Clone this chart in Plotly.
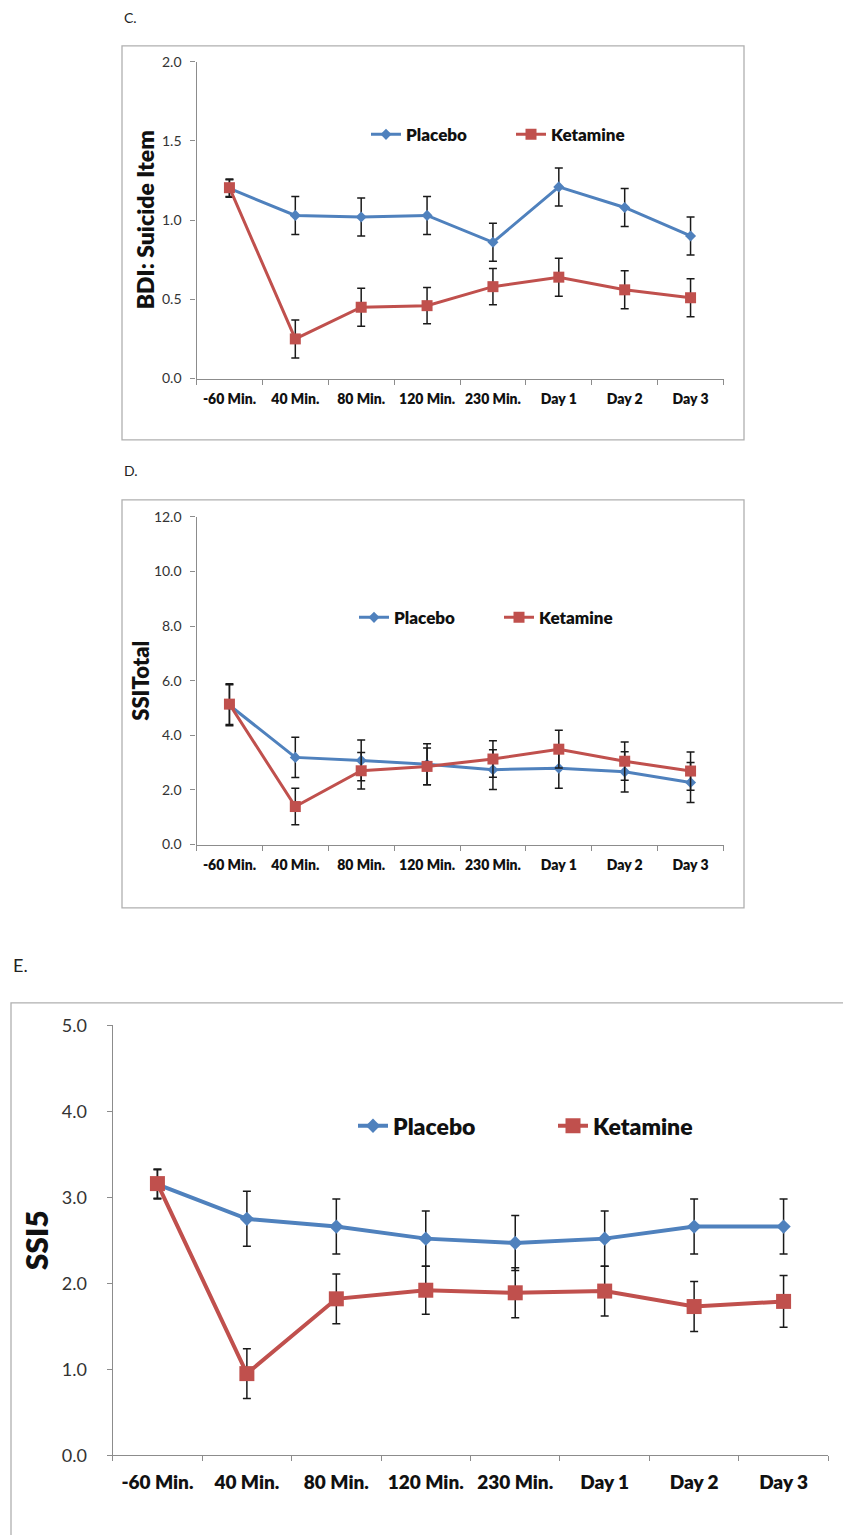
import plotly.graph_objects as go

W = 843
H = 1535                 # figure height
# vertical placement: the photographed picture is offset/compressed slightly,
# so page rows are mapped with this top offset and effective height
TOP = 11.2
HEFF = 1513.0

categories = ["-60 Min.", "40 Min.", "80 Min.", "120 Min.", "230 Min.", "Day 1", "Day 2", "Day 3"]

# Panel C: BDI suicide item
c_placebo = [1.20, 1.03, 1.02, 1.03, 0.86, 1.21, 1.08, 0.90]
c_placebo_err = [0.055, 0.12, 0.12, 0.12, 0.12, 0.12, 0.12, 0.12]
c_ketamine = [1.205, 0.25, 0.45, 0.46, 0.58, 0.64, 0.56, 0.51]
c_ketamine_err = [0.055, 0.12, 0.12, 0.115, 0.115, 0.12, 0.12, 0.12]
c_ticks = [0.0, 0.5, 1.0, 1.5, 2.0]

# Panel D: SSI total
d_placebo = [5.10, 3.19, 3.08, 2.94, 2.74, 2.79, 2.66, 2.27]
d_placebo_err = [0.75, 0.74, 0.75, 0.75, 0.73, 0.73, 0.74, 0.73]
d_ketamine = [5.14, 1.39, 2.70, 2.86, 3.13, 3.49, 3.05, 2.69]
d_ketamine_err = [0.75, 0.67, 0.67, 0.67, 0.67, 0.69, 0.70, 0.70]
d_ticks = [0.0, 2.0, 4.0, 6.0, 8.0, 10.0, 12.0]

# Panel E: SSI5
e_placebo = [3.15, 2.75, 2.66, 2.52, 2.47, 2.52, 2.66, 2.66]
e_placebo_err = [0.17, 0.32, 0.32, 0.32, 0.32, 0.32, 0.32, 0.32]
e_ketamine = [3.16, 0.95, 1.82, 1.92, 1.89, 1.91, 1.73, 1.79]
e_ketamine_err = [0.17, 0.29, 0.29, 0.28, 0.29, 0.29, 0.29, 0.30]
e_ticks = [0.0, 1.0, 2.0, 3.0, 4.0, 5.0]

BLUE = "#4F81BD"
RED = "#C0504D"
AXIS = "#8C8C8C"
FRAME = "#B0B0B0"
FONT = "Lato"


def px(x):
    return x / W


def py(y):
    return 1 - (y - TOP) / HEFF


fig = go.Figure()

panels = [
    dict(ax="", placebo=c_placebo, perr=c_placebo_err, ketamine=c_ketamine, kerr=c_ketamine_err,
         lw=3, dsize=8.5, ssize=11, legend="legend"),
    dict(ax="2", placebo=d_placebo, perr=d_placebo_err, ketamine=d_ketamine, kerr=d_ketamine_err,
         lw=3, dsize=8.5, ssize=11, legend="legend2"),
    dict(ax="3", placebo=e_placebo, perr=e_placebo_err, ketamine=e_ketamine, kerr=e_ketamine_err,
         lw=4, dsize=11, ssize=15, legend="legend3"),
]

for p in panels:
    for name, vals, errs, color, sym, size in [
        ("Placebo", p["placebo"], p["perr"], BLUE, "diamond", p["dsize"]),
        ("Ketamine", p["ketamine"], p["kerr"], RED, "square", p["ssize"]),
    ]:
        fig.add_trace(go.Scatter(
            x=categories, y=vals, name=name, mode="lines+markers",
            line=dict(color=color, width=p["lw"]),
            marker=dict(symbol=sym, size=size, color=color),
            error_y=dict(type="data", array=errs, visible=True, color="#1a1a1a",
                         thickness=1.5, width=4),
            xaxis="x" + p["ax"], yaxis="y" + p["ax"], legend=p["legend"],
            cliponaxis=False,
        ))

xaxis_common = dict(
    type="category", categoryorder="array", categoryarray=categories,
    range=[-0.5, 7.5], showline=True, linecolor=AXIS, linewidth=1.3,
    ticks="outside", tickson="boundaries", ticklen=5, tickcolor=AXIS,
    showgrid=False, zeroline=False, fixedrange=True,
)
yaxis_common = dict(
    showline=True, linecolor=AXIS, linewidth=1.3, ticks="outside", ticklen=5,
    tickcolor=AXIS, showgrid=False, zeroline=False, tickformat=".1f",
    tickmode="array", fixedrange=True,
)
bold = dict(family=FONT, weight=800, color="#111")

fig.update_layout(
    width=W, height=H, margin=dict(l=0, r=0, t=0, b=0),
    paper_bgcolor="white", plot_bgcolor="white",
    font=dict(family=FONT, color="#222222"),
    xaxis=dict(xaxis_common, domain=[px(196.5), px(723.5)], anchor="y",
               tickfont=dict(bold, size=14), ticklabelstandoff=8),
    yaxis=dict(yaxis_common, domain=[py(377.7), py(61)], anchor="x", range=[0, 2.0],
               tickvals=c_ticks, tickfont=dict(size=14, color="#333"), ticklabelstandoff=6),
    xaxis2=dict(xaxis_common, domain=[px(196.5), px(723.5)], anchor="y2",
                tickfont=dict(bold, size=14), ticklabelstandoff=8),
    yaxis2=dict(yaxis_common, domain=[py(843.7), py(516)], anchor="x2", range=[0, 12.0],
                tickvals=d_ticks, tickfont=dict(size=14, color="#333"), ticklabelstandoff=6),
    xaxis3=dict(xaxis_common, domain=[px(112.7), px(828.3)], anchor="y3",
                tickfont=dict(bold, size=19), ticklabelstandoff=10),
    yaxis3=dict(yaxis_common, domain=[py(1454.5), py(1024.6)], anchor="x3", range=[0, 5.0],
                tickvals=e_ticks, tickfont=dict(size=18, color="#333"), ticklabelstandoff=16),
    legend=dict(orientation="h", x=px(366), y=py(134), xanchor="left", yanchor="middle",
                entrywidth=100, font=dict(bold, size=17),
                bgcolor="rgba(0,0,0,0)", borderwidth=0),
    legend2=dict(orientation="h", x=px(354), y=py(617), xanchor="left", yanchor="middle",
                 entrywidth=100, font=dict(bold, size=17),
                 bgcolor="rgba(0,0,0,0)", borderwidth=0),
    legend3=dict(orientation="h", x=px(353), y=py(1125), xanchor="left", yanchor="middle",
                 entrywidth=155, font=dict(bold, size=23),
                 bgcolor="rgba(0,0,0,0)", borderwidth=0),
    showlegend=True,
)

# Panel frames
frames = [(122, 45, 744, 439), (122, 499, 744, 907), (11, 1002, 860, 1580)]
for x0, y0, x1, y1 in frames:
    fig.add_shape(type="rect", xref="paper", yref="paper",
                  x0=px(x0), x1=px(x1), y0=py(y1), y1=py(y0),
                  line=dict(color=FRAME, width=1.3), fillcolor="rgba(0,0,0,0)", layer="below")

# Panel letters
for txt, x, y, s in [("C.", 122, 17, 14), ("D.", 122, 470, 14), ("E.", 11, 964, 18)]:
    fig.add_annotation(text=txt, xref="paper", yref="paper", x=px(x), y=py(y),
                       xanchor="left", yanchor="middle", showarrow=False,
                       font=dict(size=s, family=FONT, color="#222"))

# Axis titles
for txt, x, y, s in [("BDI: Suicide Item", 145, 219.5, 23),
                     ("SSITotal", 141, 680, 22),
                     ("SSI5", 36, 1239.5, 30)]:
    fig.add_annotation(text=txt, xref="paper", yref="paper", x=px(x), y=py(y),
                       xanchor="center", yanchor="middle", textangle=-90, showarrow=False,
                       font=dict(bold, size=s))

fig.write_html(
    "out.html",
    config={"displayModeBar": False},
    post_script="document.body.style.margin='0';document.body.style.overflow='hidden';",
)
